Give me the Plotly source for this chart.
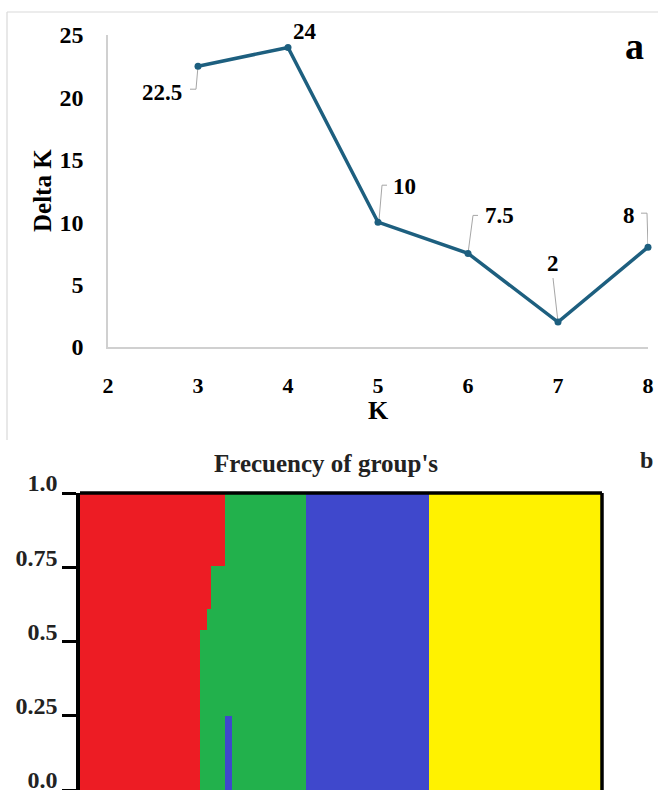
import plotly.graph_objects as go

# ---------------- Panel a data (Delta K vs K) ----------------
K = [3, 4, 5, 6, 7, 8]
delta_k = [22.5, 24, 10, 7.5, 2, 8]
x_ticks_a = [2, 3, 4, 5, 6, 7, 8]
y_ticks_a = [0, 5, 10, 15, 20, 25]

# ---------------- Panel b data (group membership frequencies) ----------------
group_sizes = [34, 2, 1, 4, 2, 21, 35, 49]
q_blue = [0, 0, 0, 0, 0.25, 0, 1.0, 0]
q_green = [0, 0.54, 0.61, 0.755, 0.75, 1.0, 0, 0]
q_red = [1.0, 0.46, 0.39, 0.245, 0, 0, 0, 0]
q_yellow = [0, 0, 0, 0, 0, 0, 0, 1.0]
y_ticks_b = [0, 0.25, 0.5, 0.75, 1.0]
y_tick_text_b = ["0.0", "0.25", "0.5", "0.75", "1.0"]

W, H = 658, 790
SERIF = "Liberation Serif, Times New Roman, serif"
LINE_COLOR = "#1d5f7f"
LEADER = "#a6a6a6"


def fx(px):
    return px / W


def fy(py):
    return 1 - py / H


fig = go.Figure()

# Panel a line
fig.add_trace(go.Scatter(
    x=K, y=delta_k, mode="lines+markers",
    line=dict(color=LINE_COLOR, width=3.5),
    marker=dict(size=7, color=LINE_COLOR),
    xaxis="x", yaxis="y", cliponaxis=False, showlegend=False,
    hoverinfo="x+y",
))

# Panel b stacked bars
starts = []
acc = 0
for n in group_sizes:
    starts.append(acc)
    acc += n
centers = [s + n / 2 for s, n in zip(starts, group_sizes)]
total = acc

for vals, col, name in [(q_blue, "#3f48cc", "Blue"), (q_green, "#22b14c", "Green"),
                        (q_red, "#ed1c24", "Red"), (q_yellow, "#fff200", "Yellow")]:
    fig.add_trace(go.Bar(
        x=centers, y=vals, width=group_sizes, name=name,
        marker=dict(color=col, line=dict(width=0)),
        xaxis="x2", yaxis="y2", showlegend=False,
    ))

# Data labels with leader lines (pixel offsets relative to each point)
label_offsets = {  # K: (xshift, yshift, fontsize)
    3: (-36, -26, 23),
    4: (17, 16, 23),
    5: (26, 36, 23),
    6: (31, 38, 23),
    7: (-5, 59, 23),
    8: (-19, 32, 23),
}
leaders = {
    3: [(0, 0, -2, -23), (-2, -23, -8, -23)],
    4: [],
    5: [(1, 2, 4, 37), (4, 37, 9, 37)],
    6: [(0, 0, 5, 38), (5, 38, 10, 38)],
    7: [(0, 0, -5, 44)],
    8: [(0, 0, -1, 34), (-1, 34, -7, 34)],
}
annotations = []
shapes = []
for k, v in zip(K, delta_k):
    dx, dy, fs = label_offsets[k]
    annotations.append(dict(
        x=k, y=v, xref="x", yref="y", text=f"{v:g}", showarrow=False,
        xanchor="center", yanchor="middle",
        xshift=dx, yshift=dy,
        font=dict(family=SERIF, size=fs, color="black", weight="bold"),
    ))
    for (a0, b0, a1, b1) in leaders[k]:
        shapes.append(dict(
            type="line", xref="x", yref="y", xsizemode="pixel", ysizemode="pixel",
            xanchor=k, yanchor=v, x0=a0, y0=b0, x1=a1, y1=b1,
            line=dict(color=LEADER, width=1), layer="below",
        ))


def paper_text(px, py, text, size, color="black", angle=0):
    return dict(x=fx(px), y=fy(py), xref="paper", yref="paper", text=text,
                textangle=angle, showarrow=False, xanchor="center", yanchor="middle",
                font=dict(family=SERIF, size=size, color=color, weight="bold"))


annotations += [
    paper_text(43, 191, "Delta K", 25, angle=-90),
    paper_text(378, 410, "K", 26),
    paper_text(634, 46, "a", 38),
    paper_text(326, 463, "Frecuency of group's", 25, color="#222222"),
    paper_text(646, 460, "b", 24, color="#222222"),
]

# Light gray frame around panel a (left and top edges visible)
shapes += [
    dict(type="line", xref="paper", yref="paper", x0=fx(7), x1=fx(7),
         y0=fy(440), y1=fy(12), line=dict(color="#d9d9d9", width=1.2)),
    dict(type="line", xref="paper", yref="paper", x0=fx(7), x1=1.0,
         y0=fy(12), y1=fy(12), line=dict(color="#d9d9d9", width=1.2)),
]
# Black frame (top and right) of panel b
shapes += [
    dict(type="line", xref="x2 domain", yref="y2 domain", x0=0, x1=1, y0=1, y1=1,
         line=dict(color="black", width=3.5)),
    dict(type="line", xref="x2 domain", yref="y2 domain", x0=1, x1=1, y0=0, y1=1,
         line=dict(color="black", width=3.5)),
]

fig.update_layout(
    width=W, height=H,
    margin=dict(l=0, r=0, t=0, b=0, pad=0, autoexpand=False),
    paper_bgcolor="white", plot_bgcolor="white",
    barmode="stack", bargap=0,
    showlegend=False,
    annotations=annotations,
    shapes=shapes,
    xaxis=dict(
        domain=[fx(108), fx(648)], range=[2, 8], anchor="y", automargin=False,
        tickvals=x_ticks_a, showgrid=False, zeroline=False,
        showline=True, linecolor="#d0d0d0", linewidth=1.5,
        ticks="", ticklabelstandoff=18,
        tickfont=dict(family=SERIF, size=22, color="black", weight="bold"),
    ),
    yaxis=dict(
        domain=[fy(347), fy(35)], range=[0, 25], anchor="x", automargin=False,
        tickvals=y_ticks_a, showgrid=False, zeroline=False,
        showline=True, linecolor="#d0d0d0", linewidth=1.5,
        ticks="", ticklabelstandoff=18,
        tickfont=dict(family=SERIF, size=24, color="black", weight="bold"),
    ),
    xaxis2=dict(
        domain=[fx(80), fx(602)], range=[0, total], anchor="y2", automargin=False,
        showgrid=False, zeroline=False, showline=False,
        showticklabels=False, ticks="",
    ),
    yaxis2=dict(
        domain=[0, fy(493)], range=[0, 1], anchor="x2", automargin=False,
        tickvals=y_ticks_b, ticktext=y_tick_text_b,
        showgrid=False, zeroline=False,
        showline=True, linecolor="black", linewidth=3.5,
        ticks="outside", ticklen=14, tickwidth=3, tickcolor="black",
        ticklabelshift=-10, ticklabeloverflow="allow",
        tickfont=dict(family=SERIF, size=24, color="#222222", weight="bold"),
    ),
)

fig.write_html(
    "out.html",
    config={"displayModeBar": False},
    post_script="document.body.style.margin='0'; document.body.style.overflow='hidden';",
)
